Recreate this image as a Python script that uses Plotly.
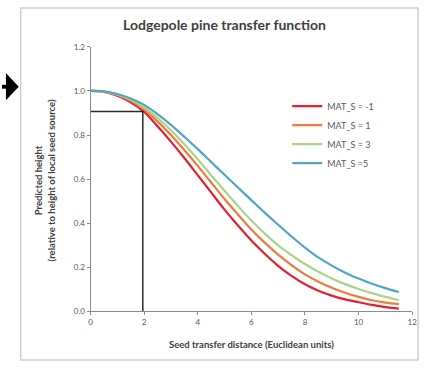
import plotly.graph_objects as go

W, H = 427, 369

distance = [0, 0.5, 1, 1.5, 2, 2.5, 3, 3.5, 4, 4.5, 5, 5.5, 6, 6.5, 7, 7.5, 8, 8.5, 9, 9.5, 10, 10.5, 11, 11.5]
mat_m1 = [1.000, 0.996, 0.978, 0.948, 0.905, 0.840, 0.770, 0.696, 0.618, 0.540, 0.462, 0.390, 0.322, 0.262, 0.207, 0.161, 0.123, 0.094, 0.072, 0.055, 0.042, 0.030, 0.020, 0.013]
mat_1 = [1.000, 0.997, 0.982, 0.955, 0.915, 0.862, 0.800, 0.732, 0.660, 0.585, 0.510, 0.440, 0.372, 0.312, 0.258, 0.210, 0.168, 0.135, 0.108, 0.085, 0.066, 0.051, 0.040, 0.033]
mat_3 = [1.000, 0.997, 0.984, 0.960, 0.925, 0.878, 0.822, 0.758, 0.690, 0.618, 0.547, 0.478, 0.412, 0.353, 0.300, 0.255, 0.215, 0.180, 0.150, 0.124, 0.102, 0.083, 0.066, 0.052]
mat_5 = [1.000, 0.998, 0.986, 0.966, 0.937, 0.895, 0.846, 0.792, 0.736, 0.678, 0.620, 0.562, 0.505, 0.448, 0.393, 0.340, 0.290, 0.245, 0.208, 0.176, 0.149, 0.126, 0.106, 0.088]

series_names = ["MAT_S = -1", "MAT_S = 1", "MAT_S = 3", "MAT_S =5"]
series_colors = ["#e3202e", "#f07a3c", "#a9d48a", "#4fa6c6"]

ref_distance = 1.95
ref_height = 0.907

x_ticks = [0, 2, 4, 6, 8, 10, 12]
y_ticks = [0.0, 0.2, 0.4, 0.6, 0.8, 1.0, 1.2]

FONT = "Lato"

def px(x):
    return x / W

def py(y):
    return 1 - y / H

fig = go.Figure()

for vals, name, col in zip([mat_m1, mat_1, mat_3, mat_5], series_names, series_colors):
    fig.add_trace(go.Scatter(x=distance, y=vals, mode="lines", name=name,
                             line=dict(color=col, width=2.2, shape="spline")))

fig.add_trace(go.Scatter(x=[0, ref_distance, ref_distance], y=[ref_height, ref_height, 0],
                         mode="lines", showlegend=False,
                         line=dict(color="#2b2b2b", width=1.5)))

fig.update_layout(
    width=W, height=H,
    margin=dict(l=0, r=0, t=0, b=0),
    paper_bgcolor="white", plot_bgcolor="white",
    font=dict(family=FONT, color="#595959", size=8),
    showlegend=True,
    legend=dict(x=px(290), y=py(89), xanchor="left", yanchor="top",
                bgcolor="rgba(0,0,0,0)", font=dict(size=9, color="#595959", family=FONT),
                tracegroupgap=0, itemwidth=30),
    xaxis=dict(domain=[px(90), px(417)], range=[0, 12], tickvals=x_ticks,
               ticktext=[str(v) for v in x_ticks],
               showgrid=False, zeroline=False, showline=True, linecolor="#8c8c8c", linewidth=1,
               ticks="outside", ticklen=3, tickcolor="#8c8c8c",
               tickfont=dict(size=8, color="#595959")),
    yaxis=dict(domain=[py(315), py(43)], range=[0, 1.2], tickvals=y_ticks,
               ticktext=["%.1f" % v for v in y_ticks],
               showgrid=False, zeroline=False, showline=True, linecolor="#8c8c8c", linewidth=1,
               ticks="outside", ticklen=3, tickcolor="#8c8c8c",
               tickfont=dict(size=8, color="#595959")),
    annotations=[
        dict(text="<b>Lodgepole pine transfer function</b>", x=px(226), y=py(20),
             xref="paper", yref="paper", showarrow=False, xanchor="center", yanchor="middle",
             font=dict(size=14, color="#404040", family=FONT)),
        dict(text="<b>Seed transfer distance (Euclidean units)</b>", x=px(254), y=py(349),
             xref="paper", yref="paper", showarrow=False, xanchor="center", yanchor="middle",
             font=dict(size=9.5, color="#404040", family=FONT)),
        dict(text="<b>Predicted height<br>(relative to height of local seed source)</b>",
             x=px(43), y=py(180), xref="paper", yref="paper", showarrow=False,
             xanchor="center", yanchor="middle", textangle=-90,
             font=dict(size=9.5, color="#404040", family=FONT)),
    ],
    shapes=[
        dict(type="rect", xref="paper", yref="paper", x0=px(19), x1=px(423), y0=py(365), y1=py(3),
             line=dict(color="#cfcfcf", width=1.5), fillcolor="rgba(0,0,0,0)", layer="below"),
        dict(type="path", xref="paper", yref="paper",
             path="M %f,%f L %f,%f L %f,%f Z" % (px(4), py(70), px(17), py(84), px(4), py(98)),
             fillcolor="black", line=dict(color="black", width=0)),
        dict(type="rect", xref="paper", yref="paper", x0=px(0), x1=px(5), y0=py(86), y1=py(82),
             fillcolor="black", line=dict(color="black", width=0)),
    ],
)

fig.write_html("out.html")
